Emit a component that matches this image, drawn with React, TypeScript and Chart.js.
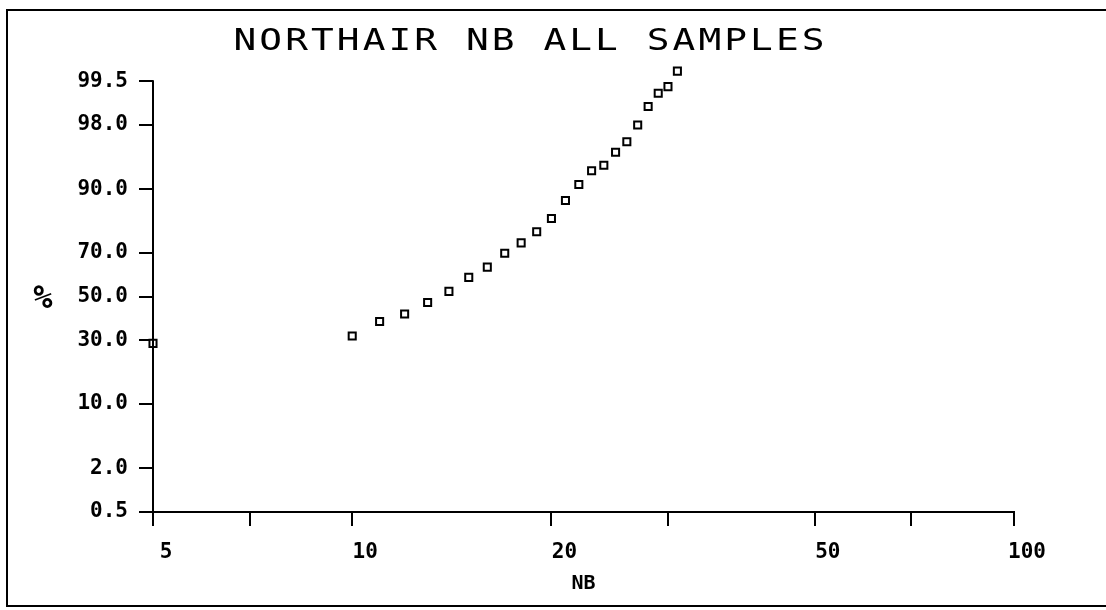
import React, { useEffect, useRef } from "react";
import { Chart, registerables } from "chart.js";

Chart.register(...registerables);

const chartTitle = "NORTHAIR NB ALL SAMPLES";
const xAxisTitle = "NB";
const yAxisTitle = "%";

// NB value of each sample and its cumulative percentage
const nbValues = [5, 10, 11, 12, 13, 14, 15, 16, 17, 18, 19, 20, 21, 22, 23, 24, 25, 26, 27, 28, 29, 30, 31];
const pctValues = [28.8, 31.9, 38.3, 41.8, 47.2, 52.5, 59.1, 63.8, 69.8, 74.0, 78.1, 82.5, 87.5, 91.0, 93.4, 94.2, 95.8, 96.8, 98.0, 98.85, 99.25, 99.4, 99.65];

const xTickValues = [5, 7, 10, 20, 30, 50, 70, 100];
const xTickLabels = [5, 10, 20, 50, 100];
const yTickLabels = [0.5, 2.0, 10.0, 30.0, 50.0, 70.0, 90.0, 98.0, 99.5];
const yHeadroomPct = 99.8; // plot extends a little above the last tick so the top sample shows

// inverse normal CDF (Acklam)
function probit(p: number): number {
  const a = [-3.969683028665376e1, 2.209460984245205e2, -2.759285104469687e2, 1.38357751867269e2, -3.066479806614716e1, 2.506628277459239];
  const b = [-5.447609879822406e1, 1.615858368580409e2, -1.556989798598866e2, 6.680131188771972e1, -1.328068155288572e1];
  const c = [-7.784894002430293e-3, -3.223964580411365e-1, -2.400758277161838, -2.549732539343734, 4.374664141464968, 2.938163982698783];
  const d = [7.784695709041462e-3, 3.224671290700398e-1, 2.445134137142996, 3.754408661907416];
  const pl = 0.02425;
  const ph = 1 - pl;
  if (p < pl) {
    const q = Math.sqrt(-2 * Math.log(p));
    return (((((c[0] * q + c[1]) * q + c[2]) * q + c[3]) * q + c[4]) * q + c[5]) / ((((d[0] * q + d[1]) * q + d[2]) * q + d[3]) * q + 1);
  }
  if (p <= ph) {
    const q = p - 0.5;
    const r = q * q;
    return ((((((a[0] * r + a[1]) * r + a[2]) * r + a[3]) * r + a[4]) * r + a[5]) * q) / (((((b[0] * r + b[1]) * r + b[2]) * r + b[3]) * r + b[4]) * r + 1);
  }
  const q = Math.sqrt(-2 * Math.log(1 - p));
  return -(((((c[0] * q + c[1]) * q + c[2]) * q + c[3]) * q + c[4]) * q + c[5]) / ((((d[0] * q + d[1]) * q + d[2]) * q + d[3]) * q + 1);
}

const MONO = '"DejaVu Sans Mono", "Liberation Mono", monospace';

const decorPlugin = {
  id: "decor",
  afterDraw(chart: any) {
    const ctx = chart.ctx as CanvasRenderingContext2D;
    const yScale = chart.scales.y;
    const area = chart.chartArea;
    ctx.save();
    ctx.strokeStyle = "#000";
    ctx.lineWidth = 2;

    // y axis line, from the top tick down to the x axis
    const yTop = yScale.getPixelForValue(probit(yTickLabels[yTickLabels.length - 1] / 100));
    ctx.beginPath();
    ctx.moveTo(area.left, yTop - 1);
    ctx.lineTo(area.left, area.bottom);
    ctx.stroke();

    // outer frame
    ctx.beginPath();
    ctx.moveTo(1110, 10);
    ctx.lineTo(7, 10);
    ctx.lineTo(7, 606);
    ctx.lineTo(1110, 606);
    ctx.stroke();

    // title, plotter-like fixed cells
    ctx.fillStyle = "#000";
    ctx.font = `31px ${MONO}`;
    ctx.textAlign = "center";
    ctx.textBaseline = "middle";
    const left = 232;
    const right = 826;
    const cell = (right - left) / chartTitle.length;
    for (let i = 0; i < chartTitle.length; i++) {
      ctx.save();
      ctx.translate(left + cell * (i + 0.5), 42);
      ctx.scale(1.22, 1);
      ctx.fillText(chartTitle[i], 0, 0);
      ctx.restore();
    }

    // y axis title (horizontal)
    ctx.font = `bold 32px ${MONO}`;
    ctx.fillText(yAxisTitle, 43, 300);
    ctx.restore();
  },
};

export default function App() {
  const ref = useRef<HTMLCanvasElement | null>(null);

  useEffect(() => {
    if (!ref.current) return;
    const points = nbValues.map((x, i) => ({ x, y: probit(pctValues[i] / 100) }));
    const yMin = probit(yTickLabels[0] / 100);
    const yMax = probit(yHeadroomPct / 100);

    const chart = new Chart(ref.current, {
      type: "scatter",
      data: {
        datasets: [
          {
            data: points,
            pointStyle: "rect",
            pointRadius: 5,
            borderWidth: 2,
            borderColor: "#000",
            backgroundColor: "#fff",
            clip: false,
          } as any,
        ],
      },
      options: {
        responsive: false,
        animation: false,
        events: [],
        layout: { padding: { left: 0, top: 56, right: 92, bottom: 0 } },
        plugins: {
          legend: { display: false },
          tooltip: { enabled: false },
          title: { display: false },
        },
        scales: {
          x: {
            type: "logarithmic",
            min: 5,
            max: 100,
            afterBuildTicks: (scale: any) => {
              scale.ticks = xTickValues.map((v) => ({ value: v }));
            },
            afterFit: (scale: any) => {
              scale.height = 98;
            },
            ticks: {
              autoSkip: false,
              maxRotation: 0,
              padding: 14,
              labelOffset: 13,
              color: "#000",
              font: { family: MONO, size: 21, weight: "bold" },
              callback: (value: any) => (xTickLabels.includes(Number(value)) ? String(value) : ""),
            },
            grid: {
              drawOnChartArea: false,
              drawTicks: true,
              tickLength: 14,
              lineWidth: 2,
              color: "#000",
            },
            border: { display: true, color: "#000", width: 2 },
            title: {
              display: true,
              text: xAxisTitle,
              color: "#000",
              font: { family: MONO, size: 20, weight: "bold" },
              padding: { top: 0, bottom: 14 },
            },
          },
          y: {
            type: "linear",
            min: yMin,
            max: yMax,
            afterBuildTicks: (scale: any) => {
              scale.ticks = yTickLabels.map((p) => ({ value: probit(p / 100) }));
            },
            afterFit: (scale: any) => {
              scale.width = 153;
            },
            ticks: {
              autoSkip: false,
              padding: 11,
              color: "#000",
              font: { family: MONO, size: 21, weight: "bold" },
              callback: (_v: any, i: number) => yTickLabels[i].toFixed(1),
            },
            grid: {
              drawOnChartArea: false,
              drawTicks: true,
              tickLength: 14,
              lineWidth: 2,
              color: "#000",
            },
            border: { display: false },
          },
        },
      },
      plugins: [decorPlugin],
    });
    return () => chart.destroy();
  }, []);

  return (
    <div style={{ position: "fixed", left: 0, top: 0, width: 1106, height: 610, background: "#fff" }}>
      <canvas ref={ref} width={1106} height={610} style={{ display: "block" }} />
    </div>
  );
}
